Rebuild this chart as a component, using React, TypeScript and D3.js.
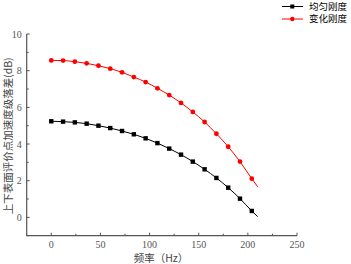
import React from "react";
import * as d3 from "d3";

const freq = [0, 12, 24, 36, 48, 60, 72, 84, 96, 108, 120, 132, 144, 156, 168, 180, 192, 204, 210];
const uniform = [5.24, 5.22, 5.18, 5.11, 5.0, 4.87, 4.71, 4.53, 4.31, 4.05, 3.75, 3.42, 3.04, 2.62, 2.15, 1.62, 1.02, 0.35, 0.04];
const varying = [8.56, 8.55, 8.49, 8.4, 8.27, 8.11, 7.91, 7.65, 7.38, 7.04, 6.67, 6.24, 5.75, 5.2, 4.56, 3.85, 3.04, 2.11, 1.67];
const markerCount = 18;
const xTicks = [0, 50, 100, 150, 200, 250];
const xMinor = [-25, 25, 75, 125, 175, 225];
const yTicks = [0, 2, 4, 6, 8, 10];
const yMinor = [-1, 1, 3, 5, 7, 9];
const seriesNames = ["均匀刚度", "变化刚度"];
const seriesColors = ["#000000", "#ff0000"];

export default function App() {
  const W = 351, H = 264;
  const left = 26.7, right = 297, top = 34, bottom = 235.7;
  const x = d3.scaleLinear().domain([-25, 250]).range([left, right]);
  const y = d3.scaleLinear().domain([-1, 10]).range([bottom, top]);
  const line = d3.line<number>().x((_, i) => x(freq[i])).y((d) => y(d)).curve(d3.curveMonotoneX);
  const series = [uniform, varying];
  const serif = "'Liberation Serif', 'DejaVu Serif', serif";
  const cjk = "'Noto Sans CJK SC', sans-serif";
  const axisColor = "#555";
  return (
    <svg width={W} height={H} style={{ position: "absolute", left: 0, top: 0, background: "#fff" }}>
      {/* axes */}
      <line x1={left} x2={left} y1={top} y2={bottom} stroke={axisColor} strokeWidth={1.2} />
      <line x1={left} x2={right} y1={bottom} y2={bottom} stroke={axisColor} strokeWidth={1.2} />
      {yTicks.map((t) => (
        <g key={"y" + t}>
          <line x1={left} x2={left + 3} y1={y(t)} y2={y(t)} stroke={axisColor} strokeWidth={1} />
          <text x={left - 5} y={y(t) + 3.5} textAnchor="end" fontSize={10} fontFamily={serif} fill="#555">{t}</text>
        </g>
      ))}
      {yMinor.map((t) => (
        <line key={"ym" + t} x1={left} x2={left + 2} y1={y(t)} y2={y(t)} stroke={axisColor} strokeWidth={1} />
      ))}
      {xTicks.map((t) => (
        <g key={"x" + t}>
          <line x1={x(t)} x2={x(t)} y1={bottom} y2={bottom - 3} stroke={axisColor} strokeWidth={1} />
          <text x={x(t)} y={bottom + 12} textAnchor="middle" fontSize={10} fontFamily={serif} fill="#555">{t}</text>
        </g>
      ))}
      {xMinor.map((t) => (
        <line key={"xm" + t} x1={x(t)} x2={x(t)} y1={bottom} y2={bottom - 2} stroke={axisColor} strokeWidth={1} />
      ))}
      {/* labels */}
      <text x={161} y={262} textAnchor="middle" fontSize={10.5} fontFamily={cjk} fill="#444">频率（Hz）</text>
      <text transform={`translate(12,${(top + bottom) / 2 + 1}) rotate(-90)`} textAnchor="middle" fontSize={10.5} fontFamily={cjk} fill="#444">上下表面评价点加速度级落差(dB)</text>
      {/* series */}
      {series.map((s, si) => (
        <g key={"s" + si}>
          <path d={line(s) || ""} fill="none" stroke={seriesColors[si]} strokeWidth={1} />
          {s.slice(0, markerCount).map((v, i) =>
            si === 0 ? (
              <rect key={i} x={x(freq[i]) - 2.2} y={y(v) - 2.2} width={4.4} height={4.4} fill={seriesColors[si]} />
            ) : (
              <circle key={i} cx={x(freq[i])} cy={y(v)} r={2.4} fill={seriesColors[si]} />
            )
          )}
        </g>
      ))}
      {/* legend */}
      {seriesNames.map((n, i) => (
        <g key={"l" + i} transform={`translate(0,${6.5 + i * 12.5})`}>
          <line x1={282} x2={303} y1={0} y2={0} stroke={seriesColors[i]} strokeWidth={1} />
          {i === 0 ? (
            <rect x={290.3} y={-2} width={4} height={4} fill={seriesColors[i]} />
          ) : (
            <circle cx={292.3} cy={0} r={2.2} fill={seriesColors[i]} />
          )}
          <text x={309} y={3.3} fontSize={9.5} fontFamily={cjk} fill="#000">{n}</text>
        </g>
      ))}
    </svg>
  );
}
